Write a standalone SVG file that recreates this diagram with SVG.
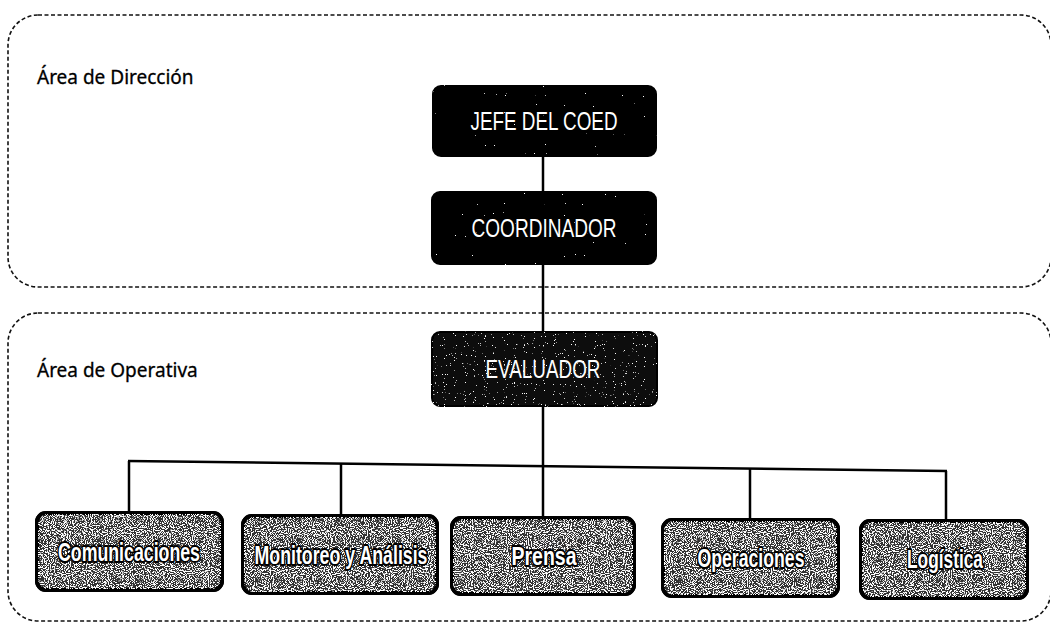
<svg xmlns="http://www.w3.org/2000/svg" width="1050" height="635" viewBox="0 0 1050 635">
<style>
.area{fill:none;stroke:#111;stroke-width:1.6;stroke-dasharray:4 2.5}
.lbl{font-family:"Noto Sans","Open Sans",sans-serif;font-size:19px;fill:#000;stroke:#000;stroke-width:0.3}
.node rect{stroke:#000}
.top{fill:#000;stroke-width:2}
.mid{fill:#0a0a0a;stroke-width:2}
.bot{fill:#333;stroke-width:4}
.nt{font-family:"Liberation Sans","Arial",sans-serif;fill:#fff;text-anchor:middle;dominant-baseline:central}
.big{font-size:25px}
.small{font-size:26px;font-weight:bold;stroke:#000;stroke-width:4;stroke-linejoin:round;paint-order:stroke}
.conn line{stroke:#000;stroke-width:2.5}
</style>
<defs>
<filter id="speckLight" x="-0.05" y="-0.1" width="1.1" height="1.2">
<feTurbulence type="fractalNoise" baseFrequency="0.9" numOctaves="1" seed="4" result="n"/>
<feColorMatrix in="n" type="matrix" values="0 0 0 0 1 0 0 0 0 1 0 0 0 0 1 40 0 0 0 -30.5" result="d"/>
<feComposite in="d" in2="SourceAlpha" operator="in" result="dc"/>
<feMerge><feMergeNode in="SourceGraphic"/><feMergeNode in="dc"/></feMerge>
</filter>
<filter id="speckMid" x="-0.05" y="-0.1" width="1.1" height="1.2">
<feTurbulence type="fractalNoise" baseFrequency="0.9" numOctaves="1" seed="7" result="n"/>
<feColorMatrix in="n" type="matrix" values="0 0 0 0 1 0 0 0 0 1 0 0 0 0 1 24 0 0 0 -16.5" result="d"/>
<feComposite in="d" in2="SourceAlpha" operator="in" result="dc"/>
<feMerge><feMergeNode in="SourceGraphic"/><feMergeNode in="dc"/></feMerge>
</filter>
<filter id="speckHeavy" x="-0.05" y="-0.1" width="1.1" height="1.2">
<feTurbulence type="fractalNoise" baseFrequency="0.95" numOctaves="1" seed="11" result="n"/>
<feColorMatrix in="n" type="matrix" values="0 0 0 0 1 0 0 0 0 1 0 0 0 0 1 14 0 0 0 -7.0" result="d"/>
<feComposite in="d" in2="SourceGraphic" operator="in" result="dc"/>
<feFlood flood-color="#000"/>
<feComposite in2="SourceAlpha" operator="in" result="blk"/>
<feMorphology in="SourceAlpha" operator="erode" radius="3" result="inner"/>
<feComposite in="dc" in2="inner" operator="in" result="dots"/>
<feMerge><feMergeNode in="blk"/><feMergeNode in="SourceGraphic"/><feMergeNode in="dots"/></feMerge>
</filter>
</defs>
<rect width="1050" height="635" fill="#fff"/>
<g id="area-direccion">
<rect class="area" x="8" y="15" width="1043" height="272" rx="30"/>
<text class="lbl" x="37" y="84">Área de Dirección</text>
</g>
<g id="area-operativa">
<rect class="area" x="8" y="313" width="1043" height="308" rx="30"/>
<text class="lbl" x="37" y="377">Área de Operativa</text>
</g>
<g class="conn" id="connectors">
<line x1="543" y1="156" x2="543" y2="192"/>
<line x1="543" y1="264" x2="543" y2="332"/>
<line x1="543" y1="406" x2="543" y2="518"/>
<line x1="128" y1="461" x2="947" y2="471"/>
<line x1="129" y1="461" x2="129" y2="513"/>
<line x1="341" y1="463" x2="341" y2="517"/>
<line x1="750" y1="469" x2="750" y2="520"/>
<line x1="946" y1="471" x2="946" y2="521"/>
</g>
<g class="node" id="jefe">
<rect class="top" x="433" y="86" width="223" height="70" rx="8" filter="url(#speckLight)"/>
<text class="nt big" x="544" y="121" textLength="147" lengthAdjust="spacingAndGlyphs">JEFE DEL COED</text>
</g>
<g class="node" id="coordinador">
<rect class="top" x="432" y="192" width="224" height="72" rx="8" filter="url(#speckLight)"/>
<text class="nt big" x="544" y="228" textLength="145" lengthAdjust="spacingAndGlyphs">COORDINADOR</text>
</g>
<g class="node" id="evaluador">
<rect class="mid" x="432" y="332" width="225" height="74" rx="8" filter="url(#speckMid)"/>
<text class="nt big" x="543" y="369" textLength="115" lengthAdjust="spacingAndGlyphs">EVALUADOR</text>
</g>
<g class="node" id="comunicaciones">
<rect class="bot" x="37" y="513" width="185" height="77" rx="9" filter="url(#speckHeavy)"/>
<text class="nt small" x="129" y="552" textLength="142" lengthAdjust="spacingAndGlyphs">Comunicaciones</text>
</g>
<g class="node" id="monitoreo">
<rect class="bot" x="243" y="516" width="194" height="77" rx="9" filter="url(#speckHeavy)"/>
<text class="nt small" x="341" y="555" textLength="173" lengthAdjust="spacingAndGlyphs">Monitoreo y Análisis</text>
</g>
<g class="node" id="prensa">
<rect class="bot" x="452" y="518" width="182" height="76" rx="9" filter="url(#speckHeavy)"/>
<text class="nt small" x="544" y="556" textLength="65" lengthAdjust="spacingAndGlyphs">Prensa</text>
</g>
<g class="node" id="operaciones">
<rect class="bot" x="663" y="520" width="175" height="76" rx="9" filter="url(#speckHeavy)"/>
<text class="nt small" x="751" y="558" textLength="107" lengthAdjust="spacingAndGlyphs">Operaciones</text>
</g>
<g class="node" id="logistica">
<rect class="bot" x="861" y="521" width="166" height="77" rx="9" filter="url(#speckHeavy)"/>
<text class="nt small" x="945" y="559" textLength="76" lengthAdjust="spacingAndGlyphs">Logística</text>
</g>
</svg>
